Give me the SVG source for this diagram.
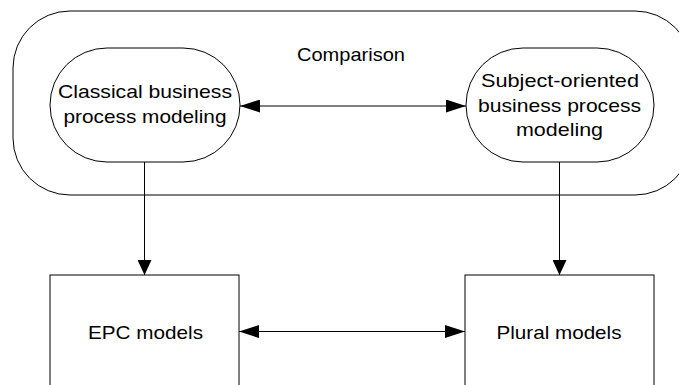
<svg xmlns="http://www.w3.org/2000/svg" width="679" height="385" viewBox="0 0 679 385">
  <style>
    .shape { fill: #ffffff; stroke: #000000; stroke-width: 1; }
    .edge { fill: none; stroke: #000000; stroke-width: 1; }
    .label { font-family: "Liberation Sans", Arial, sans-serif; font-size: 18.5px; fill: #000000; text-anchor: middle; }
  </style>
  <defs>
    <marker id="headH" markerUnits="userSpaceOnUse" markerWidth="20" markerHeight="13" refX="20" refY="6.5" orient="auto-start-reverse">
      <path d="M0,0 L20,6.5 L0,13 Z" fill="#000000"/>
    </marker>
    <marker id="headV" markerUnits="userSpaceOnUse" markerWidth="15" markerHeight="14" refX="15" refY="7" orient="auto">
      <path d="M0,0 L15,7 L0,14 Z" fill="#000000"/>
    </marker>
  </defs>

  <rect width="679" height="385" fill="#ffffff"/>

  <!-- Comparison container -->
  <g id="comparison">
    <rect class="shape" x="13" y="11" width="679" height="184" rx="57" ry="57"/>
    <text class="label" x="351" y="60.5" textLength="108" lengthAdjust="spacingAndGlyphs">Comparison</text>
  </g>

  <!-- Classical business process modeling -->
  <g id="classical">
    <rect class="shape" x="50" y="48" width="190" height="114" rx="57" ry="57"/>
    <text class="label" x="145" y="98" textLength="174" lengthAdjust="spacingAndGlyphs">Classical business</text>
    <text class="label" x="145" y="122.5" textLength="163" lengthAdjust="spacingAndGlyphs">process modeling</text>
  </g>

  <!-- Subject-oriented business process modeling -->
  <g id="subject-oriented">
    <rect class="shape" x="466" y="48" width="188" height="114" rx="57" ry="57"/>
    <text class="label" x="560" y="87" textLength="158" lengthAdjust="spacingAndGlyphs">Subject-oriented</text>
    <text class="label" x="559.5" y="111.5" textLength="163" lengthAdjust="spacingAndGlyphs">business process</text>
    <text class="label" x="559.5" y="136" textLength="87" lengthAdjust="spacingAndGlyphs">modeling</text>
  </g>

  <!-- EPC models -->
  <g id="epc-models">
    <rect class="shape" x="50" y="275" width="189" height="130"/>
    <text class="label" x="145.5" y="339" textLength="115" lengthAdjust="spacingAndGlyphs">EPC models</text>
  </g>

  <!-- Plural models -->
  <g id="plural-models">
    <rect class="shape" x="465" y="275" width="189" height="130"/>
    <text class="label" x="559" y="339" textLength="125" lengthAdjust="spacingAndGlyphs">Plural models</text>
  </g>

  <!-- Connectors -->
  <g id="connectors">
    <line class="edge" x1="240" y1="106" x2="466" y2="106" marker-start="url(#headH)" marker-end="url(#headH)"/>
    <line class="edge" x1="144.5" y1="162" x2="144.5" y2="275" marker-end="url(#headV)"/>
    <line class="edge" x1="559.5" y1="162" x2="559.5" y2="275" marker-end="url(#headV)"/>
    <line class="edge" x1="239" y1="331.5" x2="465" y2="331.5" marker-start="url(#headH)" marker-end="url(#headH)"/>
  </g>
</svg>
